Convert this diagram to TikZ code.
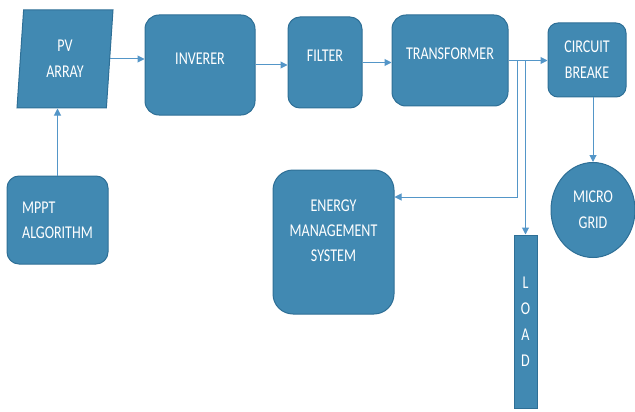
\documentclass[tikz,border=0pt]{standalone}
\usepackage{fontspec}
\setmainfont{Carlito}[FakeStretch=0.78]
\usetikzlibrary{shapes.geometric,arrows.meta}

\definecolor{blockfill}{RGB}{65,137,178}
\definecolor{blockline}{RGB}{46,111,150}
\definecolor{wireblue}{RGB}{84,150,200}

\begin{document}
\begin{tikzpicture}[x=1pt,y=1pt,yscale=-1,
  block/.style={draw=blockline,fill=blockfill,line width=1pt,rounded corners=14pt,
    text=white,align=center,inner sep=0pt,font=\fontsize{18}{26}\selectfont},
  caption/.style={text=white,align=center,inner sep=0pt,font=\fontsize{18}{25}\selectfont},
  wire/.style={draw=wireblue,line width=1pt,-{Triangle[length=7pt,width=7pt]}}]
\useasboundingbox (0,0) rectangle (635,412);

%Parallelogram
\node[block,trapezium,trapezium left angle=80,trapezium right angle=100,
  trapezium stretches body,minimum width=96,minimum height=98,rounded corners=0pt] (pv) at (65,59) {PV\\ARRAY};
%Rounded Rect
\node[block,minimum width=110,minimum height=100,text depth=12pt] (inv) at (200,65) {INVERER};
%Rounded Rect
\node[block,minimum width=74,minimum height=91,rounded corners=12pt,text depth=14pt] (fil) at (325,62.5) {FILTER};
%Rounded Rect
\node[block,minimum width=116,minimum height=91,text depth=14pt] (trf) at (450,60.5) {TRANSFORMER};
%Rounded Rect
\node[block,minimum width=78,minimum height=74,rounded corners=10pt] (cb) at (587,60) {CIRCUIT\\BREAKE};
%Circle
\node[block,ellipse,minimum width=84,minimum height=95] (mg) at (593,210) {MICRO\\GRID};
%Rounded Rect
\node[block,minimum width=121,minimum height=144,rounded corners=20pt] (ems) at (333.5,242) {};
% Text Node
\node[caption] (ems-t) at ([yshift=-11pt]ems.center) {ENERGY\\MANAGEMENT\\SYSTEM};
%Rect
\node[block,minimum width=23,minimum height=173,rounded corners=0pt] (load) at (525.5,321.5) {L\\O\\A\\D};
%Rounded Rect
\node[block,minimum width=101,minimum height=88,rounded corners=12pt,align=left,font=\fontsize{18}{25}\selectfont] (mppt) at (57.5,220) {MPPT\\ALGORITHM};

%Taps on the transformer output
\coordinate (tap) at (517,0);

%Connectors
\draw[wire] (pv.east) -- (pv.east -| inv.west);
\draw[wire] (inv.east) -- (inv.east -| fil.west);
\draw[wire] (fil.east) -- (fil.east -| trf.west);
\draw[wire] (trf.east) -- (trf.east -| cb.west);
\draw[wire] (trf.east -| tap) |- ([yshift=-45pt]ems.east);
\draw[wire] (load.north |- trf.east) -- (load.north);
\draw[wire] (mg.north |- cb.south) -- (mg.north);
\draw[wire] (mppt.north) -- (mppt.north |- pv.south);
\end{tikzpicture}
\end{document}
